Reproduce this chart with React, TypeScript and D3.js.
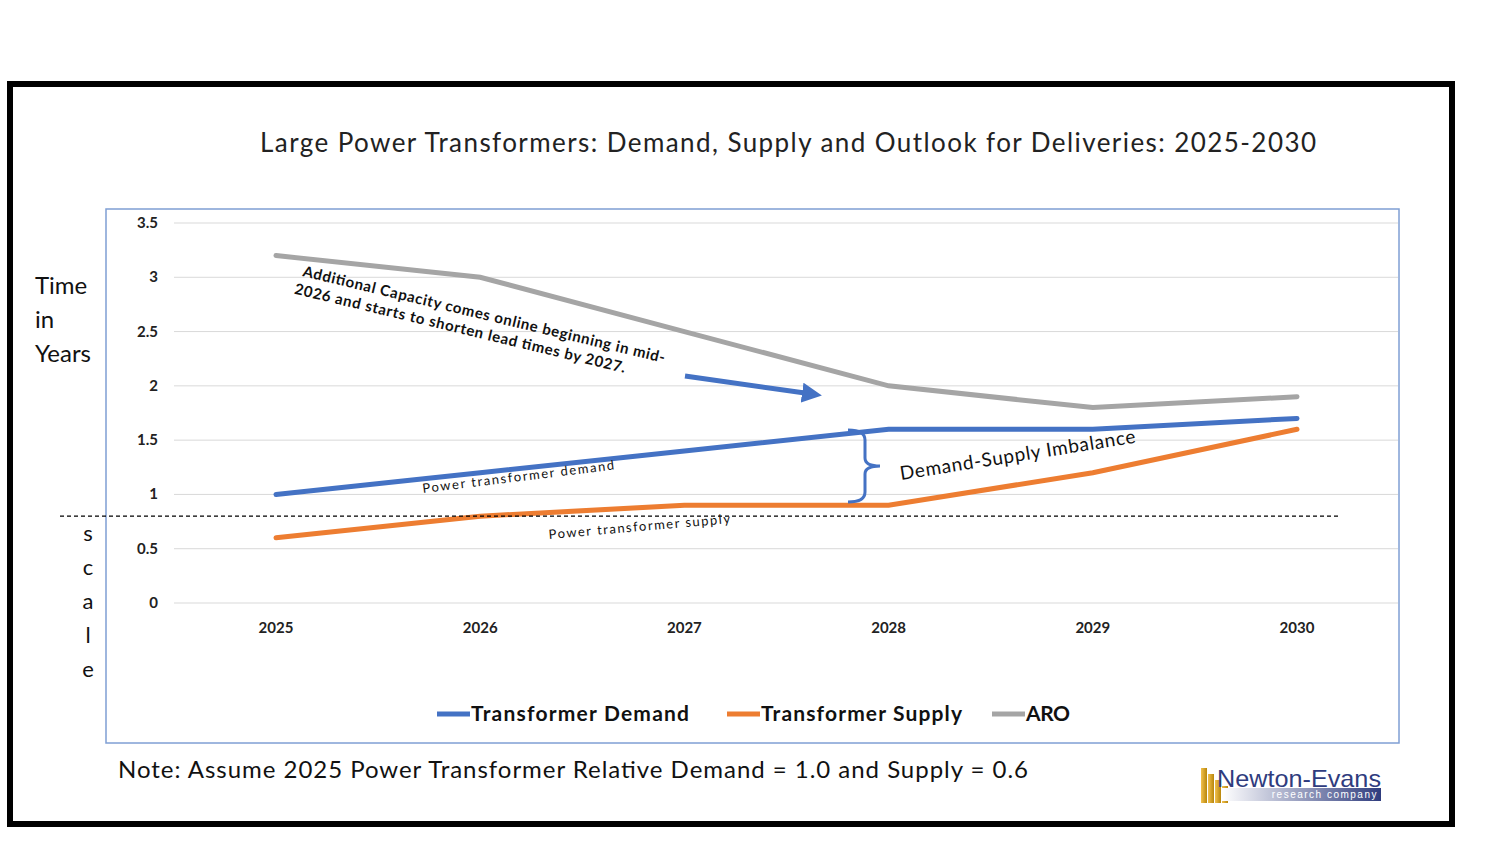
import * as d3 from "d3";

const years = [2025, 2026, 2027, 2028, 2029, 2030];
const demand = [1.0, 1.2, 1.4, 1.6, 1.6, 1.7];
const supply = [0.6, 0.8, 0.9, 0.9, 1.2, 1.6];
const aro = [3.2, 3.0, 2.5, 2.0, 1.8, 1.9];
const yTicks = [0, 0.5, 1, 1.5, 2, 2.5, 3, 3.5];

const series = [
  { name: "Transformer Demand", values: demand, color: "#4472C4" },
  { name: "Transformer Supply", values: supply, color: "#ED7D31" },
  { name: "ARO", values: aro, color: "#A5A5A5" },
];

const font = "Lato, 'Open Sans', sans-serif";

export default function App() {
  const x = d3.scaleLinear().domain([2025, 2030]).range([276, 1297]);
  const y = d3.scaleLinear().domain([0, 3.5]).range([603, 223]);
  const line = d3
    .line<number>()
    .x((_d, i) => x(years[i]))
    .y((d) => y(d));

  const legendX = [437, 727, 992];
  const legendW = [218, 201, 44];

  return (
    <svg width={1500} height={843} style={{ position: "absolute", left: 0, top: 0, background: "#fff" }} fontFamily={font} xmlSpace="preserve">
      <rect x={10} y={84} width={1442} height={740} fill="#fff" stroke="#000" strokeWidth={6} />
      <text x={260} y={152} fontSize={26} fill="#222" textLength={1056} lengthAdjust="spacing">
        Large Power Transformers:  Demand, Supply and Outlook for Deliveries:  2025-2030
      </text>
      <rect x={106} y={209} width={1293} height={534} fill="none" stroke="#7F9FD4" strokeWidth={1.5} />

      {yTicks.map((t) => (
        <g key={t}>
          <line x1={174} x2={1398} y1={y(t)} y2={y(t)} stroke="#D9D9D9" />
          <text x={158} y={y(t) + 5} fontSize={15} fontWeight="bold" textAnchor="end" fill="#222">
            {t}
          </text>
        </g>
      ))}
      {years.map((yr) => (
        <text key={yr} x={x(yr)} y={633} fontSize={15} fontWeight="bold" textAnchor="middle" fill="#222">
          {yr}
        </text>
      ))}

      {series.map((s) => (
        <path key={s.name} d={line(s.values) ?? ""} fill="none" stroke={s.color} strokeWidth={5} strokeLinecap="round" />
      ))}

      <line x1={60} x2={1340} y1={y(0.8)} y2={y(0.8)} stroke="#000" strokeWidth={1.2} strokeDasharray="4,3" />

      {["Time", "in", "Years"].map((w, i) => (
        <text key={w} x={35} y={294 + i * 34} fontSize={24} fill="#111">{w}</text>
      ))}
      {["s", "c", "a", "l", "e"].map((c, i) => (
        <text key={i} x={88} y={541 + i * 34} fontSize={22} textAnchor="middle" fill="#111">{c}</text>
      ))}

      <g transform="translate(302,276) rotate(13.5)" fontSize={15} fontWeight="bold" fill="#111">
        <text x={0} y={0} textLength={372} lengthAdjust="spacing">Additional Capacity comes online beginning in mid-</text>
        <text x={-4} y={19} textLength={340} lengthAdjust="spacing">2026 and starts to shorten lead times by 2027.</text>
      </g>
      <defs>
        <marker id="ah" markerWidth={4} markerHeight={4} refX={2} refY={2} orient="auto">
          <path d="M0,0 L4,2 L0,4 Z" fill="#4472C4" />
        </marker>
      </defs>
      <line x1={685} y1={376} x2={812} y2={394} stroke="#4472C4" strokeWidth={5} markerEnd="url(#ah)" />

      <path d="M848,430 Q865,430 865,440 L865,458 Q865,466 880,466 Q865,466 865,474 L865,492 Q865,502 848,502"
        fill="none" stroke="#4472C4" strokeWidth={3} />
      <text transform="translate(901,480) rotate(-9)" fontSize={19} fill="#111" textLength={238} lengthAdjust="spacing">Demand-Supply Imbalance</text>
      <text transform="translate(423,493) rotate(-7)" fontSize={13} fill="#111" textLength={193} lengthAdjust="spacing">Power transformer demand</text>
      <text transform="translate(549,539) rotate(-5)" fontSize={13} fill="#111" textLength={182} lengthAdjust="spacing">Power transformer supply</text>

      {series.map((s, i) => (
        <g key={s.name}>
          <line x1={legendX[i]} x2={legendX[i] + 33} y1={714} y2={714} stroke={s.color} strokeWidth={5} />
          <text x={legendX[i] + 34} y={721} fontSize={21} fontWeight="bold" fill="#111" textLength={legendW[i]} lengthAdjust="spacing">{s.name}</text>
        </g>
      ))}

      <text x={118} y={778} fontSize={24} fill="#111" textLength={910} lengthAdjust="spacing">
        Note:  Assume 2025 Power Transformer Relative Demand = 1.0 and Supply = 0.6
      </text>

      <g>
        <defs>
          <linearGradient id="lg" x1="0" x2="1">
            <stop offset="0" stopColor="#fff" />
            <stop offset="1" stopColor="#2F3C7E" />
          </linearGradient>
          <linearGradient id="gold" x1="0" x2="1">
            <stop offset="0" stopColor="#F2C14E" />
            <stop offset="1" stopColor="#B8860B" />
          </linearGradient>
        </defs>
        {[0, 7, 14, 21].map((dx, i) => (
          <rect key={i} x={1201 + dx} y={768 + i * 6} width={6} height={35 - i * 6} fill="url(#gold)" />
        ))}
        <rect x={1222} y={788} width={159} height={13} fill="url(#lg)" />
        <text x={1217} y={787} fontSize={24} fill="#2F3C7E" fontFamily="'Liberation Sans', sans-serif" textLength={164} lengthAdjust="spacingAndGlyphs">Newton-Evans</text>
        <text x={1378} y={798} fontSize={10} fill="#fff" textAnchor="end" letterSpacing={1.5} fontFamily="'Liberation Sans', sans-serif">research company</text>
      </g>
    </svg>
  );
}
